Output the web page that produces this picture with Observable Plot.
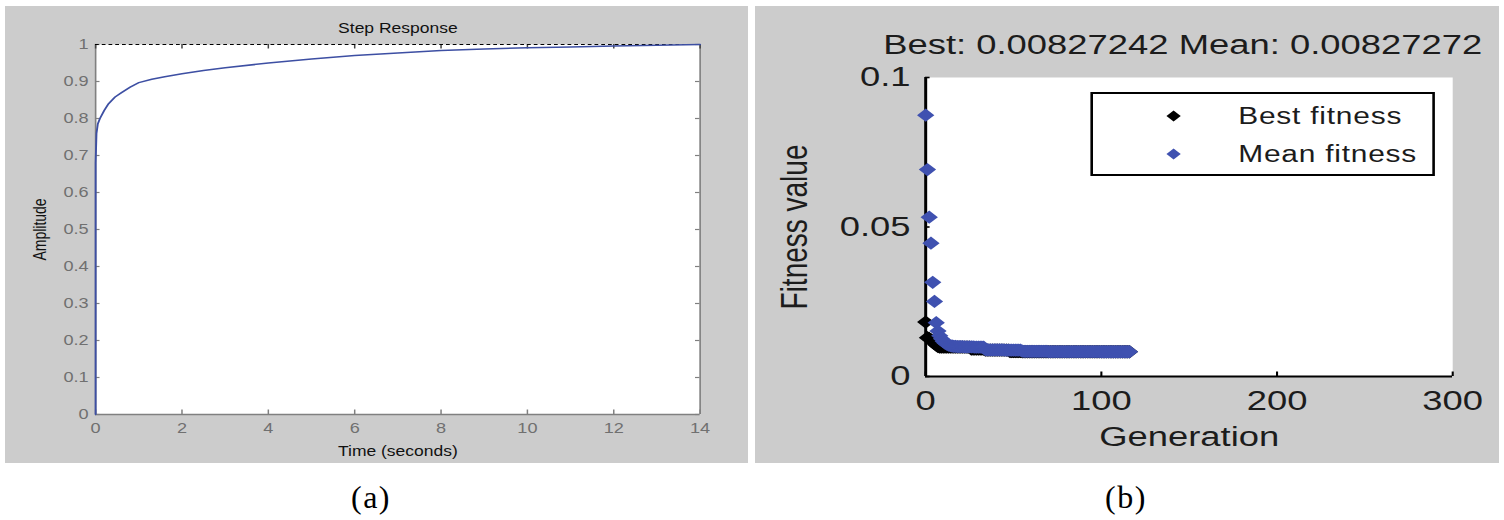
<!DOCTYPE html>
<html>
<head>
<meta charset="utf-8">
<script src="https://cdn.jsdelivr.net/npm/d3@7"></script>
<script src="https://cdn.jsdelivr.net/npm/@observablehq/plot@0.6"></script>
<style>
html,body{margin:0;padding:0;background:#fff;width:1504px;height:520px;overflow:hidden;font-family:"Liberation Sans",Arial,sans-serif;}
.panel{position:absolute;background:#cccccc;overflow:hidden;}
#pa{left:5px;top:6px;width:743px;height:457px;}
#pb{left:755px;top:6px;width:744px;height:457px;}
.stretch{position:absolute;left:0;top:0;transform-origin:0 0;}
#wa{transform:scaleX(1.25);width:594px;height:457px;}
#wb{transform:scaleX(1.3);width:572px;height:457px;}
.stretch svg{display:block;}
.cap{position:absolute;top:481px;transform:translateX(-50%);font-family:"Liberation Serif","Times New Roman",serif;font-size:32px;line-height:32px;color:#000;letter-spacing:1.5px;white-space:nowrap;}
#legend{position:absolute;left:257.7px;top:86px;width:265.4px;height:84px;box-sizing:border-box;border:2px solid #000;background:#fff;}
.lg-row{position:absolute;left:0;height:30px;width:100%;}
.lg-row svg{position:absolute;left:55px;top:8px;}
.lg-row span{position:absolute;left:112px;top:0;font-size:23px;line-height:30px;letter-spacing:0.6px;color:#1c1c1c;white-space:nowrap;}
</style>
</head>
<body>
<div class="panel" id="pa"><div class="stretch" id="wa"></div></div>
<div class="panel" id="pb"><div class="stretch" id="wb">
  <div id="legend">
    <div class="lg-row" style="top:7px"><svg width="14" height="14" viewBox="-7 -7 14 14"><polygon points="0,-5.5 5.5,0 0,5.5 -5.5,0" fill="#000"/></svg><span id="lgBest"></span></div>
    <div class="lg-row" style="top:45px"><svg width="14" height="14" viewBox="-7 -7 14 14"><polygon points="0,-5.5 5.5,0 0,5.5 -5.5,0" fill="#3f51b0"/></svg><span id="lgMean"></span></div>
  </div>
</div></div>
<div class="cap" style="left:371px">(a)</div>
<div class="cap" style="left:1126px">(b)</div>
<script>
// ---------- Panel (a): step response ----------
const stepTime = [0, 0, 0.02, 0.05, 0.1, 0.2, 0.3, 0.45, 0.6, 0.8, 1.0, 1.3, 1.6, 2.0, 2.5, 3, 4, 5, 6, 7, 8, 9, 10, 11, 12, 13, 14];
const stepAmp  = [0, 0.68, 0.76, 0.785, 0.80, 0.822, 0.840, 0.858, 0.870, 0.885, 0.897, 0.906, 0.913, 0.921, 0.930, 0.937, 0.950, 0.961, 0.970, 0.977, 0.984, 0.988, 0.991, 0.993, 0.996, 0.998, 1.0];
const xTicksA = [0, 2, 4, 6, 8, 10, 12, 14];
const yTicksA = [0, 0.1, 0.2, 0.3, 0.4, 0.5, 0.6, 0.7, 0.8, 0.9, 1];
const titleA = "Step Response";
const xLabelA = "Time (seconds)";
const yLabelA = "Amplitude";

// ---------- Panel (b): GA fitness ----------
const meanFitness = [
  0.0874, 0.0692, 0.0533, 0.0446, 0.0315, 0.0251, 0.0180, 0.0152, 0.0136, 0.0126, 0.0118, 0.0112, 0.0108, 0.0105, 0.0103,
  0.0102, 0.0101, 0.0101, 0.0100, 0.0100, 0.0100, 0.0100, 0.0099, 0.0099, 0.0099, 0.0099, 0.0099, 0.0099, 0.0098, 0.0098, 0.0098, 0.0098, 0.0098, 0.0098,
  0.0090, 0.0089, 0.0089, 0.0089, 0.0089, 0.0089, 0.0089, 0.0089, 0.0089, 0.0089, 0.0089, 0.0088, 0.0088, 0.0088, 0.0088, 0.0088, 0.0088, 0.0088, 0.0088, 0.0088, 0.0088,
  0.0085, 0.0084, 0.0084, 0.0084, 0.0084, 0.0084, 0.0084, 0.0084, 0.0084, 0.0084, 0.0084, 0.0084, 0.0084, 0.0084, 0.0084,
  0.0083, 0.0083, 0.0083, 0.0083, 0.0083, 0.0083, 0.0083, 0.0083, 0.0083, 0.0083, 0.0083, 0.0083, 0.0083, 0.0083, 0.0083,
  0.0083, 0.0083, 0.0083, 0.0083, 0.0083, 0.0083, 0.0083, 0.0083, 0.0083, 0.0083, 0.0083, 0.0083, 0.0083, 0.0083, 0.0083,
  0.00828, 0.00828, 0.00828, 0.00828, 0.00828, 0.00828, 0.00828, 0.00828, 0.00828, 0.00828, 0.00828, 0.00828, 0.00828, 0.00828, 0.00828, 0.00828,
  0.00827272
];
const bestFitness = [
  0.0182, 0.0130, 0.0127, 0.0122, 0.0117, 0.0111, 0.0105, 0.0100, 0.0098, 0.0098, 0.0098, 0.0098, 0.0098, 0.0098, 0.0098,
  0.0098, 0.0098, 0.0098, 0.0098, 0.0098, 0.0098, 0.0098, 0.0098, 0.0098, 0.0098, 0.0098,
  0.0092, 0.0092, 0.0092, 0.0092, 0.0092, 0.0092, 0.0092, 0.0092,
  0.0088, 0.0088, 0.0088, 0.0088, 0.0088, 0.0088, 0.0088, 0.0088, 0.0088, 0.0088, 0.0088, 0.0088, 0.0088, 0.0088,
  0.0083, 0.0083, 0.0083, 0.0083, 0.0083, 0.0083, 0.0083,
  0.00828, 0.00828, 0.00828, 0.00828, 0.00828, 0.00828, 0.00828, 0.00828, 0.00828, 0.00828, 0.00828, 0.00828, 0.00828, 0.00828, 0.00828,
  0.00828, 0.00828, 0.00828, 0.00828, 0.00828, 0.00828, 0.00828, 0.00828, 0.00828, 0.00828, 0.00828, 0.00828, 0.00828, 0.00828, 0.00828,
  0.00828, 0.00828, 0.00828, 0.00828, 0.00828, 0.00828, 0.00828, 0.00828, 0.00828, 0.00828, 0.00828, 0.00828, 0.00828, 0.00828, 0.00828,
  0.00828, 0.00827242, 0.00827242, 0.00827242, 0.00827242, 0.00827242, 0.00827242, 0.00827242, 0.00827242, 0.00827242, 0.00827242,
  0.00827242, 0.00827242, 0.00827242, 0.00827242, 0.00827242, 0.00827242
];
const xTicksB = [0, 100, 200, 300];
const yTicksB = [0, 0.05, 0.1];
const titleB = "Best: 0.00827242 Mean: 0.00827272";
const xLabelB = "Generation";
const yLabelB = "Fitness value";
const legendLabels = ["Best fitness", "Mean fitness"];

const FONT = "Liberation Sans, Arial, Helvetica, sans-serif";

// ---------- build panel (a) ----------
{
  const W = 594, H = 457, mt = 38, mb = 49, ml = 72, mr = 38.4;
  const pw = W - ml - mr, ph = H - mt - mb;
  const data = stepTime.map((t, i) => ({t, a: stepAmp[i]}));
  const axisCol = "#808080", labCol = "#707070";
  const chart = Plot.plot({
    width: W, height: H, marginTop: mt, marginBottom: mb, marginLeft: ml, marginRight: mr,
    style: {background: "transparent", fontFamily: FONT, overflow: "visible"},
    x: {domain: [0, 14], label: null},
    y: {domain: [0, 1], label: null},
    marks: [
      Plot.frame({fill: "white", stroke: null}),
      Plot.ruleX([xTicksA[0], xTicksA[xTicksA.length - 1]], {x: d => d, stroke: axisCol, strokeWidth: 1.3}),
      Plot.ruleY([yTicksA[0]], {y: d => d, stroke: axisCol, strokeWidth: 1.3}),
      Plot.tickX(xTicksA, {x: d => d, insetTop: ph - 4.5, stroke: axisCol, strokeWidth: 1.2}),
      Plot.tickX(xTicksA, {x: d => d, insetBottom: ph - 4.5, stroke: "#444", strokeWidth: 1.2}),
      Plot.tickY(yTicksA, {y: d => d, insetRight: pw - 3.6, stroke: axisCol, strokeWidth: 1.2}),
      Plot.tickY(yTicksA, {y: d => d, insetLeft: pw - 3.6, stroke: axisCol, strokeWidth: 1.2}),
      Plot.ruleY([yTicksA[yTicksA.length - 1]], {y: d => d, stroke: "#000", strokeWidth: 1, strokeDasharray: "3,2.4"}),
      Plot.line(data, {x: "t", y: "a", stroke: "#3d4fa3", strokeWidth: 1.5}),
      Plot.axisX({ticks: xTicksA, tickSize: 0, tickPadding: 8.5, fontSize: 14.5, fill: labCol, tickFormat: d => String(d), label: null}),
      Plot.axisY({ticks: yTicksA, tickSize: 0, tickPadding: 5.6, fontSize: 14.5, fill: labCol, tickFormat: d => String(d), label: null}),
      Plot.text([titleA], {text: d => d, frameAnchor: "top", dy: -16, lineAnchor: "middle", textAnchor: "middle", fontSize: 14, fill: "#111"}),
      Plot.text([xLabelA], {text: d => d, frameAnchor: "bottom", dy: 37, lineAnchor: "middle", textAnchor: "middle", fontSize: 14, fill: "#111"}),
      Plot.text([yLabelA], {text: d => d, frameAnchor: "left", dx: -44, lineAnchor: "middle", textAnchor: "middle", rotate: -90, fontSize: 14, fill: "#111"})
    ]
  });
  document.getElementById("wa").appendChild(chart);
}

// ---------- build panel (b) ----------
{
  const W = 572, H = 457, mt = 71, mb = 87, ml = 130.8, mr = 35.8;
  const pw = W - ml - mr, ph = H - mt - mb;
  const best = bestFitness.map((v, i) => ({gen: i, v}));
  const mean = meanFitness.map((v, i) => ({gen: i, v}));
  const txt = "#1c1c1c";
  const chart = Plot.plot({
    width: W, height: H, marginTop: mt, marginBottom: mb, marginLeft: ml, marginRight: mr,
    style: {background: "transparent", fontFamily: FONT, overflow: "visible"},
    x: {domain: [0, 300], label: null},
    y: {domain: [0, 0.1], label: null},
    marks: [
      Plot.frame({fill: "white", stroke: null}),
      Plot.ruleX([xTicksB[0]], {x: d => d, stroke: "#000", strokeWidth: 2.3}),
      Plot.ruleY([yTicksB[0]], {y: d => d, stroke: "#000", strokeWidth: 2}),
      Plot.tickX(xTicksB, {x: d => d, insetTop: ph - 4.5, stroke: "#000", strokeWidth: 1.6}),
      Plot.tickY(yTicksB, {y: d => d, insetRight: pw - 3.5, stroke: "#000", strokeWidth: 1.6}),
      Plot.dot(best, {x: "gen", y: "v", symbol: "diamond2", r: 6, fill: "#000", stroke: null}),
      Plot.dot(mean, {x: "gen", y: "v", symbol: "diamond2", r: 6, fill: "#3f51b0", stroke: null}),
      Plot.axisX({ticks: xTicksB, tickSize: 0, tickPadding: 14, fontSize: 28, fill: txt, tickFormat: d => String(d), label: null}),
      Plot.axisY({ticks: yTicksB, tickSize: 0, tickPadding: 11.6, fontSize: 28, fill: txt, tickFormat: d => String(d), label: null}),
      Plot.text([titleB], {text: d => d, frameAnchor: "top", dy: -32, dx: -5, lineAnchor: "middle", textAnchor: "middle", fontSize: 28, fill: txt}),
      Plot.text([xLabelB], {text: d => d, frameAnchor: "bottom", dy: 61, lineAnchor: "middle", textAnchor: "middle", fontSize: 28, fill: txt}),
      Plot.text([yLabelB], {text: d => d, frameAnchor: "left", dx: -100, lineAnchor: "middle", textAnchor: "middle", rotate: -90, fontSize: 28, fill: txt})
    ]
  });
  const wb = document.getElementById("wb");
  wb.insertBefore(chart, wb.firstChild);
  document.getElementById("lgBest").textContent = legendLabels[0];
  document.getElementById("lgMean").textContent = legendLabels[1];
}
</script>
</body>
</html>
